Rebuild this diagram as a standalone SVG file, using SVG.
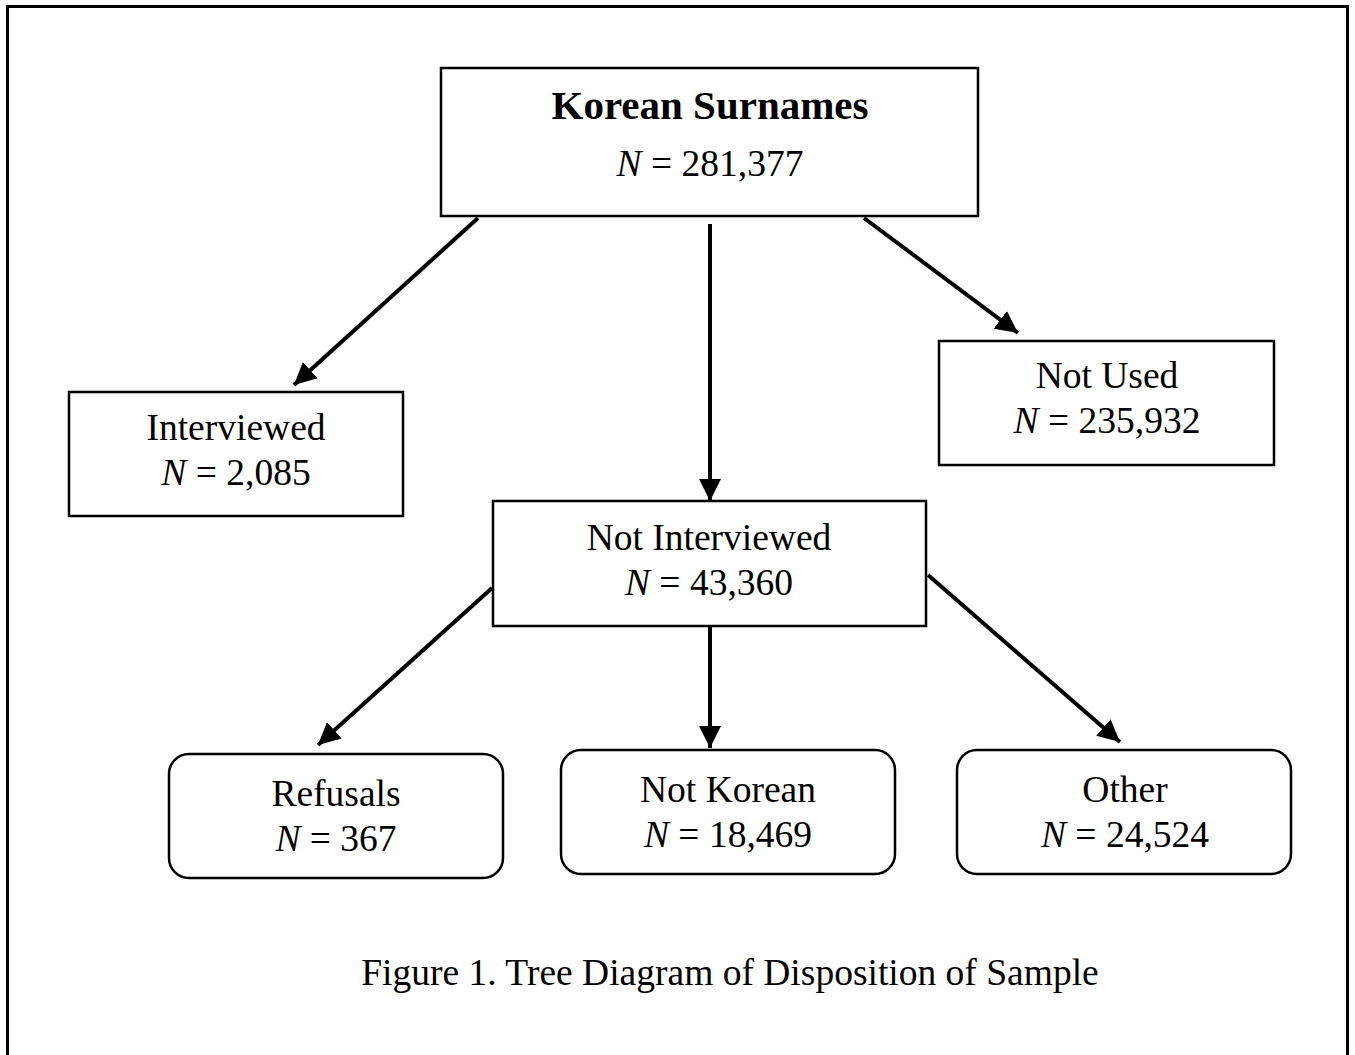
<svg xmlns="http://www.w3.org/2000/svg" width="1355" height="1055" viewBox="0 0 1355 1055">
<style>
.box{fill:#fff;stroke:#000;stroke-width:2.5}
.t{font-family:"Liberation Serif","Times New Roman",serif;font-size:37.5px;fill:#000;text-anchor:middle}
.b{font-weight:bold;font-size:41px}
.conn line{stroke:#000;stroke-width:4}
</style>
<defs>
<marker id="ah" viewBox="0 0 10 10" refX="10" refY="5" markerWidth="5.5" markerHeight="5.5" markerUnits="strokeWidth" orient="auto">
<path d="M0,0 L10,5 L0,10 z" fill="#000"/>
</marker>
</defs>
<rect x="0" y="0" width="1355" height="1055" fill="#fff"/>
<rect x="7.5" y="6.5" width="1340" height="1060" fill="none" stroke="#000" stroke-width="3"/>
<g class="conn">
<line x1="478" y1="218" x2="294" y2="385" marker-end="url(#ah)"/>
<line x1="710" y1="224" x2="710" y2="501" marker-end="url(#ah)"/>
<line x1="864" y1="218" x2="1018" y2="333" marker-end="url(#ah)"/>
<line x1="492" y1="588" x2="318" y2="745" marker-end="url(#ah)"/>
<line x1="710" y1="626" x2="710" y2="748" marker-end="url(#ah)"/>
<line x1="928" y1="575" x2="1120" y2="742" marker-end="url(#ah)"/>
</g>
<g id="korean-surnames">
<rect class="box" x="441" y="68" width="537" height="148"/>
<text class="t b" x="710" y="119">Korean Surnames</text>
<text class="t" x="710" y="176"><tspan font-style="italic">N</tspan> = 281,377</text>
</g>
<g id="interviewed">
<rect class="box" x="69" y="392" width="334" height="124"/>
<text class="t" x="236" y="440">Interviewed</text>
<text class="t" x="236" y="485"><tspan font-style="italic">N</tspan> = 2,085</text>
</g>
<g id="not-used">
<rect class="box" x="939" y="341" width="335" height="124"/>
<text class="t" x="1107" y="388">Not Used</text>
<text class="t" x="1107" y="433"><tspan font-style="italic">N</tspan> = 235,932</text>
</g>
<g id="not-interviewed">
<rect class="box" x="493" y="501" width="433" height="125"/>
<text class="t" x="709" y="550">Not Interviewed</text>
<text class="t" x="709" y="595"><tspan font-style="italic">N</tspan> = 43,360</text>
</g>
<g id="refusals">
<rect class="box" x="169" y="754" width="334" height="124" rx="20"/>
<text class="t" x="336" y="806">Refusals</text>
<text class="t" x="336" y="851"><tspan font-style="italic">N</tspan> = 367</text>
</g>
<g id="not-korean">
<rect class="box" x="561" y="750" width="334" height="124" rx="20"/>
<text class="t" x="728" y="802">Not Korean</text>
<text class="t" x="728" y="847"><tspan font-style="italic">N</tspan> = 18,469</text>
</g>
<g id="other">
<rect class="box" x="957" y="750" width="334" height="124" rx="20"/>
<text class="t" x="1125" y="802">Other</text>
<text class="t" x="1125" y="847"><tspan font-style="italic">N</tspan> = 24,524</text>
</g>
<text class="t" x="730" y="985">Figure 1. Tree Diagram of Disposition of Sample</text>
</svg>
